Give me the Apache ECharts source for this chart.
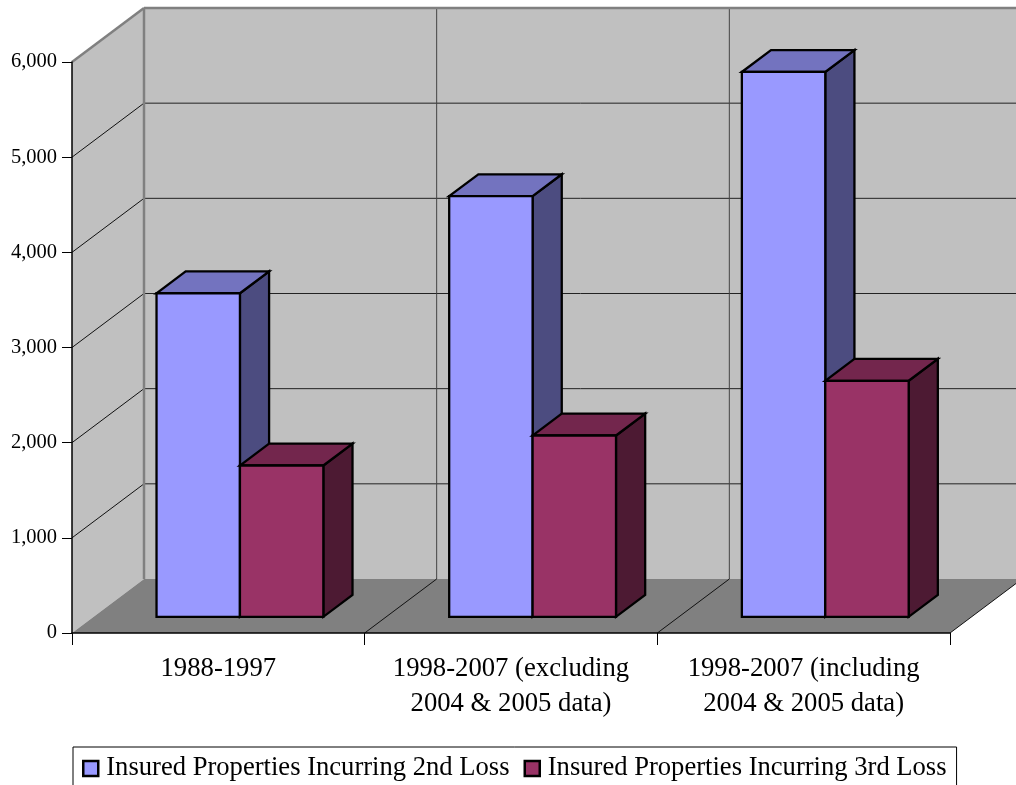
<!DOCTYPE html>
<html>
<head>
<meta charset="utf-8">
<script src="https://cdn.jsdelivr.net/npm/echarts@6/dist/echarts.min.js"></script>
<style>
html,body{margin:0;padding:0;background:#fff;}
#chart{width:1016px;height:785px;}
</style>
</head>
<body>
<div id="chart"></div>
<script>
// ---- data ----
const categories = ["1988-1997", "1998-2007 (excluding\n2004 & 2005 data)", "1998-2007 (including\n2004 & 2005 data)"];
const seriesNames = ["Insured Properties Incurring 2nd Loss", "Insured Properties Incurring 3rd Loss"];
const secondLoss = [3400, 4420, 5725];
const thirdLoss = [1590, 1905, 2480];
const yTicks = [0, 1000, 2000, 3000, 4000, 5000, 6000];

// ---- 3D projection constants (style) ----
const DX = 72, DY = -54;          // full depth offset of the walls
const F0 = 0.3, DEPTH = 0.405;    // bar depth start and thickness (fraction of full depth)
const BAR_FRAC = 0.285;           // bar width as fraction of category width
const SERIF = "'Liberation Serif','Times New Roman',serif";

const palettes = [
  {front: '#9999FF', top: '#7373BF', side: '#4C4C80'},
  {front: '#993366', top: '#73264D', side: '#4D1A33'}
];

const chart = echarts.init(document.getElementById('chart'), null, {renderer: 'canvas'});

function wallsRender(params, api) {
  const cs = params.coordSys;
  const x0 = cs.x, x1 = cs.x + cs.width;
  const yMax = yTicks[yTicks.length - 1];
  const yTop = api.coord([0, yMax])[1];
  const yBot = api.coord([0, 0])[1];
  const cw = api.size([1, 0])[0];
  const ch = [];
  const poly = (pts, fill) => ({type: 'polygon', shape: {points: pts}, style: {fill: fill, stroke: null}, silent: true});
  const line = (a, b, color, w) => ({type: 'line', shape: {x1: a[0], y1: a[1], x2: b[0], y2: b[1]}, style: {stroke: color, lineWidth: w}, silent: true});
  // back wall
  ch.push(poly([[x0 + DX, yTop + DY], [x1 + DX, yTop + DY], [x1 + DX, yBot + DY], [x0 + DX, yBot + DY]], '#C0C0C0'));
  // side wall
  ch.push(poly([[x0, yTop], [x0 + DX, yTop + DY], [x0 + DX, yBot + DY], [x0, yBot]], '#C0C0C0'));
  // floor
  ch.push(poly([[x0, yBot], [x1, yBot], [x1 + DX, yBot + DY], [x0 + DX, yBot + DY]], '#808080'));
  // gridlines
  yTicks.forEach(v => {
    if (v === 0 || v === yMax) return;
    const y = api.coord([0, v])[1];
    ch.push(line([x0 + DX, y + DY], [x1 + DX, y + DY], '#222', 1));
    ch.push(line([x0, y], [x0 + DX, y + DY], '#111', 1));
  });
  // category dividers on back wall and floor
  for (let k = 1; k < categories.length; k++) {
    const bx = x0 + k * cw;
    ch.push(line([bx + DX, yTop + DY], [bx + DX, yBot + DY], '#444', 1));
    ch.push(line([bx, yBot], [bx + DX, yBot + DY], '#111', 1));
  }
  // floor right edge
  ch.push(line([x1, yBot], [x1 + DX, yBot + DY], '#111', 1));
  // wall borders
  ch.push(line([x0, yTop], [x0 + DX, yTop + DY], '#808080', 2.5));
  ch.push(line([x0 + DX, yTop + DY], [x1 + DX + 10, yTop + DY], '#808080', 2.5));
  ch.push(line([x0 + DX, yTop + DY], [x0 + DX, yBot + DY], '#808080', 2.5));
  return {type: 'group', children: ch};
}

function barRender(sideIdx) {
  const pal = palettes[sideIdx];
  return function (params, api) {
    const i = api.value(0), v = api.value(1);
    const base = api.coord([i, 0]);
    const topPt = api.coord([i, v]);
    const cw = api.size([1, 0])[0];
    const bw = cw * BAR_FRAC;
    const ox = DX * F0, oy = DY * F0, dx = DX * DEPTH, dy = DY * DEPTH;
    const xl = base[0] + (sideIdx === 0 ? -bw : 0) + ox, xr = xl + bw;
    const yb = base[1] + oy, yt = topPt[1] + oy;
    const st = (fill) => ({fill: fill, stroke: '#000', lineWidth: 2.3, lineJoin: 'miter'});
    return {
      type: 'group',
      children: [
        {type: 'polygon', shape: {points: [[xr, yt], [xr + dx, yt + dy], [xr + dx, yb + dy], [xr, yb]]}, style: st(pal.side)},
        {type: 'polygon', shape: {points: [[xl, yt], [xr, yt], [xr + dx, yt + dy], [xl + dx, yt + dy]]}, style: st(pal.top)},
        {type: 'polygon', shape: {points: [[xl, yt], [xr, yt], [xr, yb], [xl, yb]]}, style: st(pal.front)}
      ]
    };
  };
}

const option = {
  animation: false,
  backgroundColor: '#fff',
  grid: {left: 72, right: 66, top: 62, bottom: 152, containLabel: false},
  legend: {
    left: 73, top: 747,
    data: seriesNames,
    orient: 'horizontal',
    icon: 'rect',
    itemWidth: 15, itemHeight: 15,
    itemGap: 14,
    padding: [8, 10, 16, 9],
    backgroundColor: '#fff',
    borderColor: '#000', borderWidth: 1, borderRadius: 0,
    itemStyle: {borderColor: '#000', borderWidth: 2.5},
    textStyle: {fontFamily: SERIF, fontSize: 26.6, color: '#000', padding: [0, 0, 0, 3]}
  },
  xAxis: {
    type: 'category',
    data: categories,
    z: 10,
    boundaryGap: true,
    axisLine: {show: true, lineStyle: {color: '#000', width: 1.5}},
    axisTick: {show: true, length: 12, interval: 0, lineStyle: {color: '#000', width: 1}},
    axisLabel: {interval: 0, fontFamily: SERIF, fontSize: 26.7, lineHeight: 35, color: '#000', margin: 18},
    splitLine: {show: false}
  },
  yAxis: {
    type: 'value',
    min: 0, max: 6000, interval: 1000,
    z: 10,
    axisLine: {show: true, lineStyle: {color: '#000', width: 1.5}},
    axisTick: {show: true, length: 10, lineStyle: {color: '#000', width: 1}},
    axisLabel: {fontFamily: SERIF, fontSize: 20.5, color: '#000', margin: 15,
      formatter: v => v.toLocaleString('en-US')},
    splitLine: {show: false}
  },
  series: [
    {
      type: 'custom', name: '_walls', z: 1, silent: true,
      renderItem: wallsRender,
      data: [[0, 0]],
      encode: {x: 0, y: 1},
      clip: false
    },
    {
      type: 'custom', name: seriesNames[0], z: 3,
      itemStyle: {color: palettes[0].front, borderColor: '#000', borderWidth: 2.5},
      renderItem: barRender(0),
      data: secondLoss.map((v, i) => [i, v]),
      encode: {x: 0, y: 1},
      clip: false
    },
    {
      type: 'custom', name: seriesNames[1], z: 4,
      itemStyle: {color: palettes[1].front, borderColor: '#000', borderWidth: 2.5},
      renderItem: barRender(1),
      data: thirdLoss.map((v, i) => [i, v]),
      encode: {x: 0, y: 1},
      clip: false
    }
  ]
};
chart.setOption(option);
</script>
</body>
</html>
